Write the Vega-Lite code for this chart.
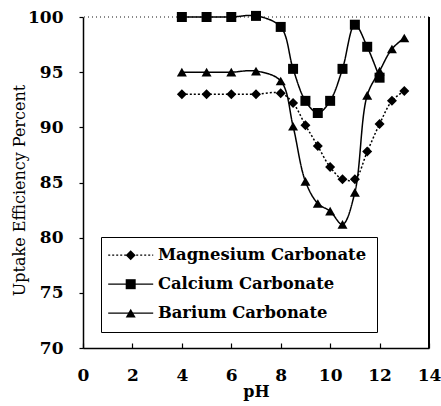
{
  "$schema": "https://vega.github.io/schema/vega-lite/v6.json",
  "width": 346,
  "height": 331,
  "autosize": {"type": "none"},
  "padding": {"left": 83, "top": 17, "right": 12, "bottom": 58},
  "background": "white",
  "config": {
    "view": {"stroke": null},
    "axis": {"grid": false, "domainColor": "black", "tickColor": "black", "labelColor": "black", "titleColor": "black", "domainWidth": 1.5, "tickWidth": 1.2}
  },
  "data": {
    "values": [
      {"series": "Magnesium Carbonate", "pH": 4, "uptake": 93.0},
      {"series": "Magnesium Carbonate", "pH": 5, "uptake": 93.0},
      {"series": "Magnesium Carbonate", "pH": 6, "uptake": 93.0},
      {"series": "Magnesium Carbonate", "pH": 7, "uptake": 93.0},
      {"series": "Magnesium Carbonate", "pH": 8, "uptake": 93.1},
      {"series": "Magnesium Carbonate", "pH": 8.5, "uptake": 92.2},
      {"series": "Magnesium Carbonate", "pH": 9, "uptake": 90.2},
      {"series": "Magnesium Carbonate", "pH": 9.5, "uptake": 88.3},
      {"series": "Magnesium Carbonate", "pH": 10, "uptake": 86.4},
      {"series": "Magnesium Carbonate", "pH": 10.5, "uptake": 85.3},
      {"series": "Magnesium Carbonate", "pH": 11, "uptake": 85.3},
      {"series": "Magnesium Carbonate", "pH": 11.5, "uptake": 87.8},
      {"series": "Magnesium Carbonate", "pH": 12, "uptake": 90.3},
      {"series": "Magnesium Carbonate", "pH": 12.5, "uptake": 92.4},
      {"series": "Magnesium Carbonate", "pH": 13, "uptake": 93.3},
      {"series": "Calcium Carbonate", "pH": 4, "uptake": 100.0},
      {"series": "Calcium Carbonate", "pH": 5, "uptake": 100.0},
      {"series": "Calcium Carbonate", "pH": 6, "uptake": 100.0},
      {"series": "Calcium Carbonate", "pH": 7, "uptake": 100.1},
      {"series": "Calcium Carbonate", "pH": 8, "uptake": 99.1},
      {"series": "Calcium Carbonate", "pH": 8.5, "uptake": 95.3},
      {"series": "Calcium Carbonate", "pH": 9, "uptake": 92.4},
      {"series": "Calcium Carbonate", "pH": 9.5, "uptake": 91.3},
      {"series": "Calcium Carbonate", "pH": 10, "uptake": 92.4},
      {"series": "Calcium Carbonate", "pH": 10.5, "uptake": 95.3},
      {"series": "Calcium Carbonate", "pH": 11, "uptake": 99.3},
      {"series": "Calcium Carbonate", "pH": 11.5, "uptake": 97.3},
      {"series": "Calcium Carbonate", "pH": 12, "uptake": 94.5},
      {"series": "Barium Carbonate", "pH": 4, "uptake": 95.0},
      {"series": "Barium Carbonate", "pH": 5, "uptake": 95.0},
      {"series": "Barium Carbonate", "pH": 6, "uptake": 95.0},
      {"series": "Barium Carbonate", "pH": 7, "uptake": 95.1},
      {"series": "Barium Carbonate", "pH": 8, "uptake": 94.2},
      {"series": "Barium Carbonate", "pH": 8.5, "uptake": 90.1},
      {"series": "Barium Carbonate", "pH": 9, "uptake": 85.1},
      {"series": "Barium Carbonate", "pH": 9.5, "uptake": 83.1},
      {"series": "Barium Carbonate", "pH": 10, "uptake": 82.4},
      {"series": "Barium Carbonate", "pH": 10.5, "uptake": 81.2},
      {"series": "Barium Carbonate", "pH": 11, "uptake": 84.1},
      {"series": "Barium Carbonate", "pH": 11.5, "uptake": 92.9},
      {"series": "Barium Carbonate", "pH": 12, "uptake": 95.1},
      {"series": "Barium Carbonate", "pH": 12.5, "uptake": 97.1},
      {"series": "Barium Carbonate", "pH": 13, "uptake": 98.1}
    ]
  },
  "encoding": {
    "x": {
      "field": "pH", "type": "quantitative",
      "scale": {"domain": [0, 14], "nice": false, "zero": false},
      "axis": {"title": "pH", "values": [0, 2, 4, 6, 8, 10, 12, 14], "tickSize": -5, "labelPadding": 24,
        "labelFont": "DejaVu Serif", "labelFontWeight": "bold", "labelFontSize": 17,
        "titleFont": "DejaVu Serif", "titleFontWeight": "bold", "titleFontSize": 16, "titlePadding": 0, "labelFlush": false}
    },
    "y": {
      "field": "uptake", "type": "quantitative",
      "scale": {"domain": [70, 100], "nice": false, "zero": false},
      "axis": {"title": "Uptake Efficiency Percent", "values": [70, 75, 80, 85, 90, 95, 100], "tickSize": 4, "labelPadding": 16,
        "labelFont": "DejaVu Serif", "labelFontWeight": "bold", "labelFontSize": 17,
        "titleFont": "DejaVu Serif", "titleFontWeight": "normal", "titleFontSize": 16, "titleX": -64, "titleY": 173, "titleBaseline": "middle", "labelFlush": false}
    }
  },
  "layer": [
    {
      "mark": {"type": "rule", "color": "#888", "strokeDash": [1, 3], "strokeWidth": 1},
      "encoding": {"y": {"datum": 100}, "x": null}
    },
    {
      "mark": {"type": "rule", "color": "black", "strokeWidth": 1.2},
      "encoding": {"x": {"datum": 14}, "y": null}
    },
    {
      "mark": {"type": "line", "interpolate": "catmull-rom", "color": "black", "strokeWidth": 1.5},
      "encoding": {
        "strokeDash": {
          "field": "series", "type": "nominal",
          "sort": ["Magnesium Carbonate", "Calcium Carbonate", "Barium Carbonate"],
          "scale": {"range": [[2, 2], [1, 0], [1, 0]]},
          "legend": {"title": null, "orient": "none", "legendX": 18, "legendY": 220, "symbolType": "M-4.5,0L4.5,0", "symbolSize": 100, "symbolOffset": 11.5,
            "symbolStrokeColor": "black", "symbolStrokeWidth": 1.3, "padding": 10, "rowPadding": 12,
            "labelFont": "DejaVu Serif", "labelFontWeight": "bold", "labelFontSize": 16.4, "labelColor": "transparent", "labelOffset": 19, "labelLimit": 400}
        }
      }
    },
    {
      "mark": {"type": "point", "filled": true, "color": "black", "size": 100, "opacity": 1},
      "encoding": {
        "shape": {
          "field": "series", "type": "nominal",
          "scale": {"domain": ["Magnesium Carbonate", "Calcium Carbonate", "Barium Carbonate"], "range": ["diamond", "square", "triangle-up"]},
          "legend": {"title": null, "orient": "none", "legendX": 18, "legendY": 220, "symbolSize": 100, "symbolOffset": 11.5,
            "symbolFillColor": "black", "symbolStrokeColor": "black", "symbolStrokeWidth": 0, "symbolOpacity": 1, "padding": 10, "rowPadding": 12,
            "strokeColor": "black", "fillColor": "transparent",
            "labelFont": "DejaVu Serif", "labelFontWeight": "bold", "labelFontSize": 16.4, "labelColor": "black", "labelOffset": 19, "labelLimit": 400}
        }
      }
    }
  ]
}
